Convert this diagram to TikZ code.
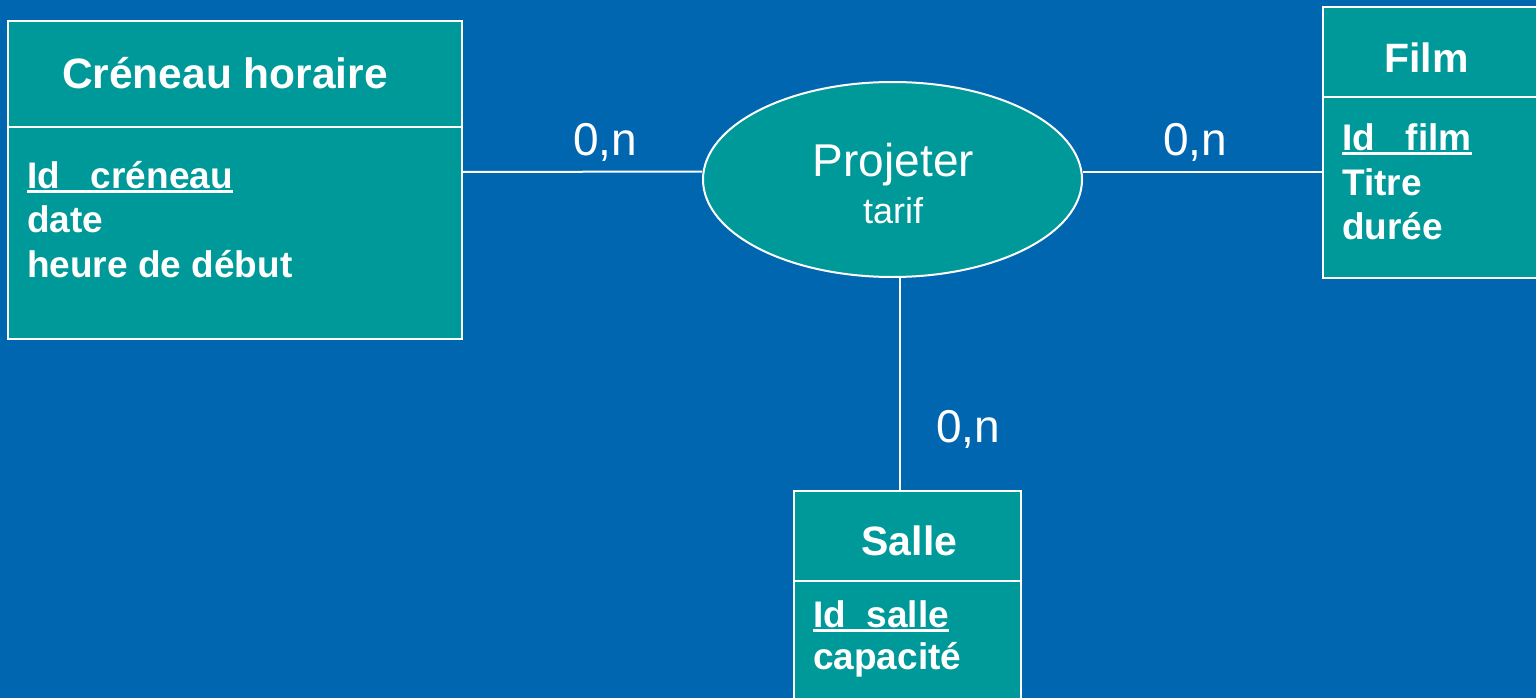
\documentclass[tikz,border=0pt]{standalone}
\usepackage{fontspec}
\setmainfont{Liberation Sans}
\usetikzlibrary{shapes.geometric}
\definecolor{bgblue}{HTML}{0066B0}
\definecolor{entfill}{HTML}{009999}
\newcommand\ulkey[1]{\setbox0\hbox{#1}\rlap{\rule[-5pt]{\wd0}{3pt}}\box0}
\begin{document}
\begin{tikzpicture}[x=1pt,y=-1pt,
  ent/.style={draw=white, line width=2pt, fill=entfill, rectangle, inner sep=0pt},
  rel/.style={draw=white, line width=2pt, fill=entfill, ellipse, inner sep=0pt},
  divline/.style={white, line width=2pt},
  conn/.style={white, line width=2pt},
  title/.style={text=white, font=\bfseries\fontsize{41}{49}\selectfont, inner sep=0pt, anchor=base},
  attr/.style={text=white, font=\bfseries\fontsize{37}{44}\selectfont, inner sep=0pt, anchor=base west},
  card/.style={text=white, font=\fontsize{46}{55}\selectfont, inner sep=0pt, anchor=base},
  reltxt/.style={text=white, inner sep=0pt, anchor=base}]
\useasboundingbox (0,0) rectangle (1536,698);
\clip (0,0) rectangle (1536,698);
\fill[bgblue] (0,0) rectangle (1536,698);

% entities
\node[ent, minimum width=454pt, minimum height=318pt] (cren) at (235,180) {};
\draw[divline] (cren.west |- 0,127) -- (cren.east |- 0,127);
\node[ent, minimum width=222pt, minimum height=271pt] (film) at (1434,142.5) {};
\draw[divline] (film.west |- 0,97) -- (film.east |- 0,97);
\node[ent, minimum width=227pt, minimum height=219pt] (salle) at (907.5,600.5) {};
\draw[divline] (salle.west |- 0,581) -- (salle.east |- 0,581);

% relationship
\node[rel, minimum width=379pt, minimum height=195pt] (ell) at (892.5,179.5) {};

% connectors
\draw[conn] ([yshift=8pt]cren.east) -- ([yshift=8pt]ell.west);
\coordinate (rc) at ([yshift=8pt]ell.east);
\draw[conn] (rc) -- (rc -| film.west);
\coordinate (bc) at ([xshift=7.5pt]ell.south);
\draw[conn] (bc) -- (bc |- salle.north);

% texts
\node[title, font=\bfseries\fontsize{42.5}{50}\selectfont] (crent) at (225,89) {Créneau horaire};
\node[attr] (cra1) at (27,188) {\ulkey{Id\_ créneau}};
\node[attr] (cra2) at (27,232) {date};
\node[attr] (cra3) at (27,277) {heure de début};

\node[title] (filmt) at (1426.5,73) {Film};
\node[attr] (fa1) at (1342,150) {\ulkey{Id\_ film}};
\node[attr] (fa2) at (1342,195) {Titre};
\node[attr] (fa3) at (1342,239) {durée};

\node[title] (sallet) at (909.5,555) {Salle};
\node[attr] (sa1) at (813,627) {\ulkey{Id\_salle}};
\node[attr] (sa2) at (813,669) {capacité};

\node[reltxt, font=\fontsize{46}{55}\selectfont] (projt) at (893.5,176) {Projeter};
\node[reltxt, font=\fontsize{36}{43}\selectfont] (tarift) at (893,223) {tarif};

\node[card] (c1) at (605,156) {0,n};
\node[card] (c2) at (1195,156) {0,n};
\node[card] (c3) at (968,442) {0,n};
\end{tikzpicture}
\end{document}
